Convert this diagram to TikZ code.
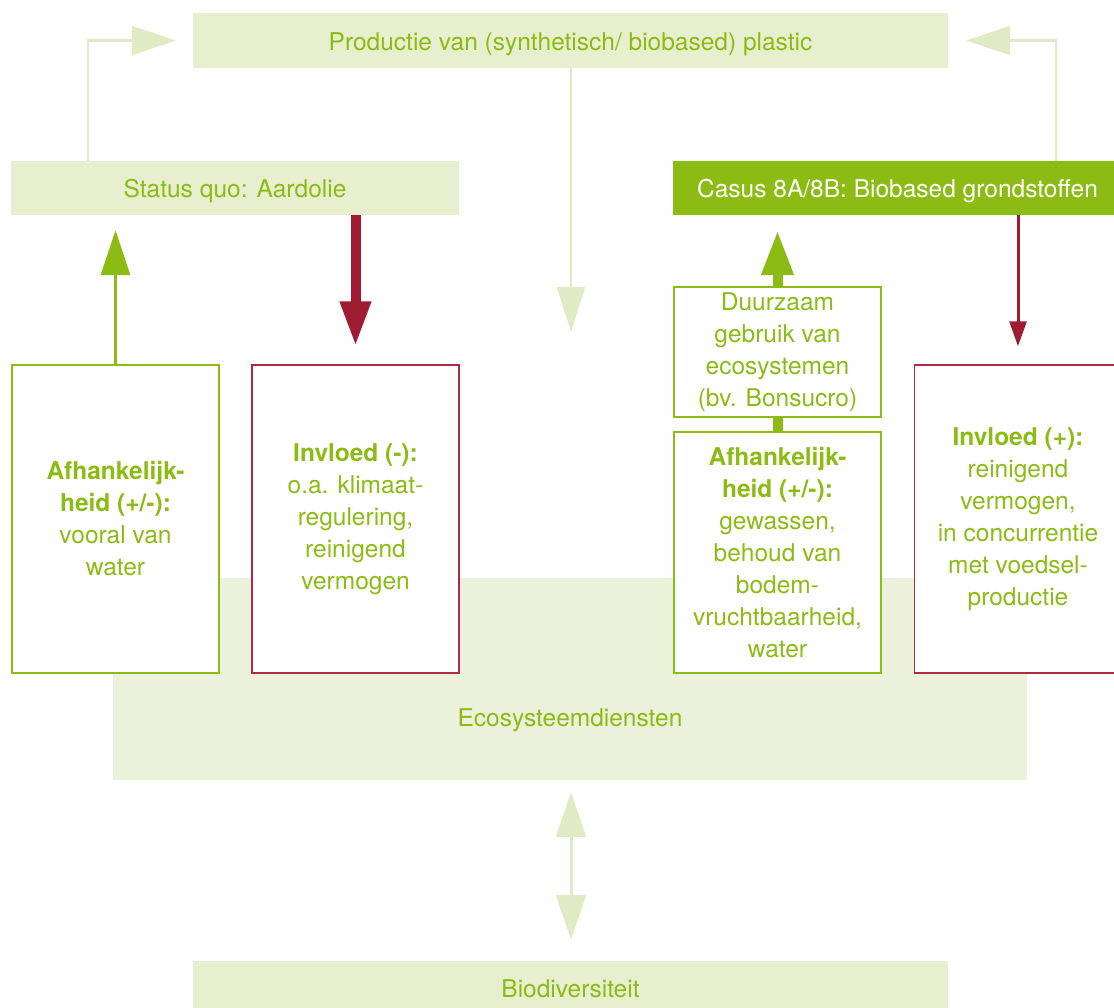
\documentclass[tikz,border=0pt]{standalone}
\usepackage{fontspec}
\setmainfont{TeX Gyre Heros}
\usetikzlibrary{arrows.meta,calc}
\definecolor{gr}{HTML}{8CBB13}
\definecolor{rd}{HTML}{9E1B32}
\definecolor{rdb}{HTML}{B02A42}
\definecolor{lt}{HTML}{E7EFCF}
\definecolor{eco}{HTML}{EBF1DB}
\definecolor{la}{HTML}{E0EBC5}
\begin{document}
\begin{tikzpicture}[x=1pt,y=-1pt,
  txt/.style={font=\fontsize{24.5}{32}\selectfont, text=gr, align=center, inner sep=0pt},
  lbox/.style={txt, fill=lt, minimum height=55pt, text height=19pt, text depth=0pt},
  gbox/.style={txt, draw=gr, line width=1.5pt, fill=white, minimum width=207pt},
  rbox/.style={txt, draw=rdb, line width=1.5pt, fill=white, minimum width=207pt},
  lightarr/.style={draw=la, line width=2.5pt, -{Triangle[length=44pt,width=29pt]}},
  bigtip/.style={-{Triangle[length=45pt,width=29pt]}}
]
\useasboundingbox (0,0) rectangle (1114,1007);
\clip (0,0) rectangle (1114,1007);

% background band
\node[fill=eco, minimum width=914pt, minimum height=202pt, inner sep=0pt] (eco) at (570,679) {};
\node[txt] (ecot) at (570,720) {Ecosysteemdiensten};

% top and bottom bands
\node[lbox, minimum width=755pt] (top) at (570.5,40.5) {Productie van (synthetisch/ biobased) plastic};
\node[lbox, minimum width=755pt, minimum height=54pt] (bio) at (570.5,988) {Biodiversiteit};

% source boxes
\node[lbox, minimum width=448pt, minimum height=54pt] (sq) at (235,188) {Status quo: Aardolie};
\node[lbox, fill=gr, text=white, minimum width=449pt, minimum height=54pt] (casus) at (897.5,188) {Casus 8A/8B: Biobased grondstoffen};

% text boxes
\node[gbox, minimum height=308pt] (b1) at (115.5,519)
  {\textbf{Afhankelijk-}\\\textbf{heid (+/-):}\\vooral van\\water};
\node[rbox, minimum height=308pt] (r1) at (355.5,519)
  {\textbf{Invloed (-):}\\o.a. klimaat-\\regulering,\\reinigend\\vermogen};
\node[gbox, minimum height=130pt] (d) at (777.5,352)
  {Duurzaam\\gebruik van\\ecosystemen\\(bv. Bonsucro)};
\node[gbox, minimum height=241pt] (a2) at (777.5,552.5)
  {\textbf{Afhankelijk-}\\\textbf{heid (+/-):}\\gewassen,\\behoud van\\bodem-\\vruchtbaarheid,\\water};
\node[rbox, minimum height=308pt] (r2) at (1018,519)
  {\textbf{Invloed (+):}\\reinigend\\vermogen,\\in concurrentie\\met voedsel-\\productie};

% helper coordinates
\coordinate (lx) at (88,0);
\coordinate (rx) at (1056,0);
\coordinate (cx) at (571,0);
\coordinate (c1) at (571,332);

% light connectors
\draw[lightarr] (sq.north -| lx) |- ([xshift=-17pt]top.west);
\draw[lightarr] (casus.north -| rx) |- ([xshift=18pt]top.east);
\draw[lightarr, -{Triangle[length=45pt,width=28pt]}] (top.south -| cx) -- (c1);
\draw[draw=la, line width=3pt, {Triangle[length=45pt,width=30pt]}-{Triangle[length=45pt,width=30pt]},
      shorten <=12pt, shorten >=21pt] (eco.south -| cx) -- (bio.north -| cx);

% dependency / influence arrows
\draw[gr, line width=3pt, bigtip, shorten >=15pt] (b1.north) -- (b1.north |- sq.south);
\draw[rd, line width=10pt, bigtip, shorten >=18pt] (r1.north |- sq.south) -- (r1.north);
\draw[gr, line width=10pt, -{Triangle[length=45pt,width=30pt]}, shorten >=15pt] (d.north) -- (d.north |- casus.south);
\draw[gr, line width=10pt] (a2.north) -- (d.south);
\draw[rd, line width=3pt, -{Triangle[length=25pt,width=17pt]}, shorten >=18pt] (r2.north |- casus.south) -- (r2.north);
\end{tikzpicture}
\end{document}
